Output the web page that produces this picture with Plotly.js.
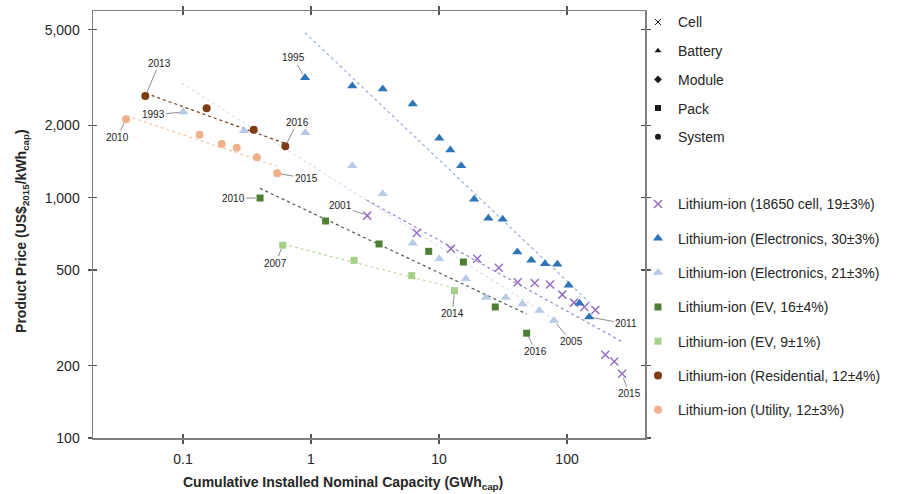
<!DOCTYPE html>
<html>
<head>
<meta charset="utf-8">
<script src="https://cdn.plot.ly/plotly-3.0.1.min.js"></script>
<style>html,body{margin:0;padding:0;background:#fff;}#chart{width:912px;height:494px;}</style>
</head>
<body>
<div id="chart"></div>
<script>
// ---- Data ----
const cellX   = [2.75, 6.70, 12.4, 19.9, 29.3, 41.2, 55.9, 73.6, 91.9, 113.5, 136.5, 166.4, 199, 234, 269];
const cellY   = [842, 713, 613, 557, 511, 445, 442, 435, 395, 366, 351, 341, 222, 208, 185];
const elec30X = [0.898, 2.10, 3.63, 6.23, 10.05, 12.25, 14.9, 18.8, 24.3, 31.4, 40.9, 52.6, 67.3, 84, 103, 125, 149];
const elec30Y = [3157, 2916, 2833, 2454, 1767, 1580, 1359, 985, 821, 813, 594, 549, 531, 528, 432, 364, 319];
const elec21X = [0.1005, 0.300, 0.903, 2.10, 3.63, 6.23, 10.05, 16.2, 23.2, 33.3, 44.8, 60.8, 79.1];
const elec21Y = [2274, 1901, 1865, 1359, 1039, 646, 557, 460, 384, 384, 361, 339, 308];
const ev16X   = [0.400, 1.30, 3.40, 8.31, 15.5, 27.5, 48.4];
const ev16Y   = [997, 800, 642, 598, 540, 351, 273];
const ev9X    = [0.601, 2.17, 6.12, 13.2];
const ev9Y    = [634, 549, 474, 410];
const resX    = [0.0508, 0.153, 0.357, 0.630];
const resY    = [2650, 2355, 1918, 1636];
const utilX   = [0.0359, 0.135, 0.2005, 0.263, 0.377, 0.545];
const utilY   = [2119, 1828, 1673, 1615, 1472, 1263];

// trend line end points
const trendCellX = [2.72, 278.7],   trendCellY = [978, 249.2];
const trend30X   = [0.898, 151.2],  trend30Y   = [4861, 364.6];
const trend21X   = [0.0977, 88.2],  trend21Y   = [2994, 301];
const trendEv16X = [0.399, 48.4],   trendEv16Y = [1094, 328];
const trendEv9X  = [0.608, 13.3],   trendEv9Y  = [641, 420];
const trendResX  = [0.0514, 0.626], trendResY  = [2718, 1683];
const trendUtilX = [0.0363, 0.540], trendUtilY = [2188, 1355];

const seriesNames = [
  'Lithium-ion (18650 cell, 19±3%)',
  'Lithium-ion (Electronics, 30±3%)',
  'Lithium-ion (Electronics, 21±3%)',
  'Lithium-ion (EV, 16±4%)',
  'Lithium-ion (EV, 9±1%)',
  'Lithium-ion (Residential, 12±4%)',
  'Lithium-ion (Utility, 12±3%)'
];
const keyNames = ['Cell', 'Battery', 'Module', 'Pack', 'System'];
const xTickVals = [0.1, 1, 10, 100];
const xTickText = ['0.1', '1', '10', '100'];
const yTickVals = [100, 200, 500, 1000, 2000, 5000];
const yTickText = ['100', '200', '500', '1,000', '2,000', '5,000'];

// ---- Styles ----
const FONT = 'Liberation Sans, Arial, sans-serif';
const series = [
  {x: cellX,   y: cellY,   tx: trendCellX, ty: trendCellY, color: '#9470c0', tcolor: '#a084c6', symbol: 'x-thin', size: 8},
  {x: elec30X, y: elec30Y, tx: trend30X,   ty: trend30Y,   color: '#2e75b6', tcolor: '#98b0d8', symbol: 'triangle-up', size: 9},
  {x: elec21X, y: elec21Y, tx: trend21X,   ty: trend21Y,   color: '#b7cae6', tcolor: '#d5e1f2', symbol: 'triangle-up', size: 9},
  {x: ev16X,   y: ev16Y,   tx: trendEv16X, ty: trendEv16Y, color: '#4f7f34', tcolor: '#4c5c46', symbol: 'square', size: 7},
  {x: ev9X,    y: ev9Y,    tx: trendEv9X,  ty: trendEv9Y,  color: '#a6d08a', tcolor: '#b8d9a2', symbol: 'square', size: 7},
  {x: resX,    y: resY,    tx: trendResX,  ty: trendResY,  color: '#7f3c12', tcolor: '#7a3a12', symbol: 'circle', size: 8},
  {x: utilX,   y: utilY,   tx: trendUtilX, ty: trendUtilY, color: '#f2b08a', tcolor: '#f6c4a6', symbol: 'circle', size: 8}
];
const keySymbols = ['x-thin', 'triangle-up', 'diamond', 'square', 'circle'];

const traces = [];
series.forEach((s) => {
  traces.push({
    x: s.tx, y: s.ty, type: 'scatter', mode: 'lines', showlegend: false, hoverinfo: 'skip',
    line: {color: s.tcolor, width: 1.2, dash: 'dot'}
  });
});
series.forEach((s, i) => {
  const marker = {symbol: s.symbol, size: s.size, color: s.color};
  if (s.symbol === 'x-thin') marker.line = {color: s.color, width: 1.5};
  traces.push({
    x: s.x, y: s.y, type: 'scatter', mode: 'markers', name: seriesNames[i],
    legend: 'legend', legendgroup: 'g' + i, marker: marker
  });
});
keyNames.forEach((n, i) => {
  const marker = {symbol: keySymbols[i], size: 6, color: '#1a1a1a'};
  if (keySymbols[i] === 'x-thin') marker.line = {color: '#1a1a1a', width: 1};
  traces.push({
    x: [null], y: [null], type: 'scatter', mode: 'markers', name: n,
    legend: 'legend2', legendgroup: 'k' + i, marker: marker
  });
});
// empty trace for the inner tick overlay
traces.push({x: [], y: [], type: 'scatter', mode: 'markers', xaxis: 'x2', yaxis: 'y2', showlegend: false, hoverinfo: 'skip'});

// year labels: [text, series index, point index, ax, ay]
const labelSpecs = [
  ['2013', 5, 0, 14, -33],
  ['2016', 5, 3, 12, -24],
  ['1993', 2, 0, -30, 3],
  ['2005', 2, 12, 17, 21],
  ['2010', 6, 0, -9, 18],
  ['2015', 6, 5, 29, 5],
  ['1995', 1, 0, -12, -20],
  ['2011', 1, 16, 37, 7],
  ['2010', 3, 0, -27, 0],
  ['2016', 3, 6, 9, 18],
  ['2001', 0, 0, -27, -10],
  ['2015', 0, 14, 7, 20],
  ['2007', 4, 0, -7, 18],
  ['2014', 4, 3, -2, 23]
];
const annotations = labelSpecs.map(([t, si, pi, ax, ay]) => ({
  x: Math.log10(series[si].x[pi]), y: Math.log10(series[si].y[pi]), xref: 'x', yref: 'y',
  text: t, showarrow: true, arrowhead: 0, arrowwidth: 1, arrowcolor: '#8c8c8c',
  ax: ax, ay: ay, standoff: 4, font: {family: FONT, size: 10, color: '#222'}
}));
annotations.push({
  xref: 'paper', yref: 'paper', x: 0.4529, y: -0.1054, xanchor: 'center', yanchor: 'middle',
  showarrow: false, text: '<b>Cumulative Installed Nominal Capacity (GWh<sub>cap</sub>)</b>',
  font: {family: FONT, size: 14, color: '#262626'}
});
annotations.push({
  xref: 'paper', yref: 'paper', x: -0.1286, y: 0.485, xanchor: 'center', yanchor: 'middle',
  showarrow: false, textangle: -90, text: '<b>Product Price (US$<sub>2015</sub>/kWh<sub>cap</sub>)</b>',
  font: {family: FONT, size: 14, color: '#262626'}
});

const xRange = [-1.703, 2.609];
const yRange = [2, 3.777];
const axisCommon = {
  type: 'log', showgrid: false, zeroline: false, showline: true, linecolor: '#7f7f7f', linewidth: 1.5,
  ticks: 'outside', ticklen: 4, tickwidth: 1.2, tickcolor: '#555', mirror: 'ticks',
  tickfont: {family: FONT, size: 14, color: '#262626'}
};

const layout = {
  width: 912, height: 494,
  margin: {l: 93, r: 267, t: 11, b: 56, autoexpand: false},
  paper_bgcolor: '#fff', plot_bgcolor: '#fff',
  font: {family: FONT},
  xaxis: Object.assign({}, axisCommon, {range: xRange, tickvals: xTickVals, ticktext: xTickText, ticklabelstandoff: 4}),
  yaxis: Object.assign({}, axisCommon, {range: yRange, tickvals: yTickVals, ticktext: yTickText, ticklabelstandoff: 5}),
  xaxis2: {type: 'log', range: xRange, overlaying: 'x', anchor: 'y2', showgrid: false, zeroline: false,
           showline: false, ticks: 'inside', ticklen: 4, tickwidth: 1.2, tickcolor: '#555', mirror: 'ticks',
           tickvals: xTickVals, showticklabels: false},
  yaxis2: {type: 'log', range: yRange, overlaying: 'y', anchor: 'x2', showgrid: false, zeroline: false,
           showline: false, ticks: 'inside', ticklen: 4, tickwidth: 1.2, tickcolor: '#555', mirror: 'ticks',
           tickvals: yTickVals, showticklabels: false},
  showlegend: true,
  legend: {x: 0.9873, xanchor: 'left', y: 0.5845, yanchor: 'top', traceorder: 'grouped', tracegroupgap: 13.1,
           bgcolor: 'rgba(0,0,0,0)', borderwidth: 0, font: {family: FONT, size: 14, color: '#262626'}},
  legend2: {x: 0.9873, xanchor: 'left', y: 1.0108, yanchor: 'top', traceorder: 'grouped', tracegroupgap: 7.5,
            bgcolor: 'rgba(0,0,0,0)', borderwidth: 0, font: {family: FONT, size: 14, color: '#262626'}},
  annotations: annotations
};

Plotly.newPlot('chart', traces, layout, {displayModeBar: false, staticPlot: true});
</script>
</body>
</html>
